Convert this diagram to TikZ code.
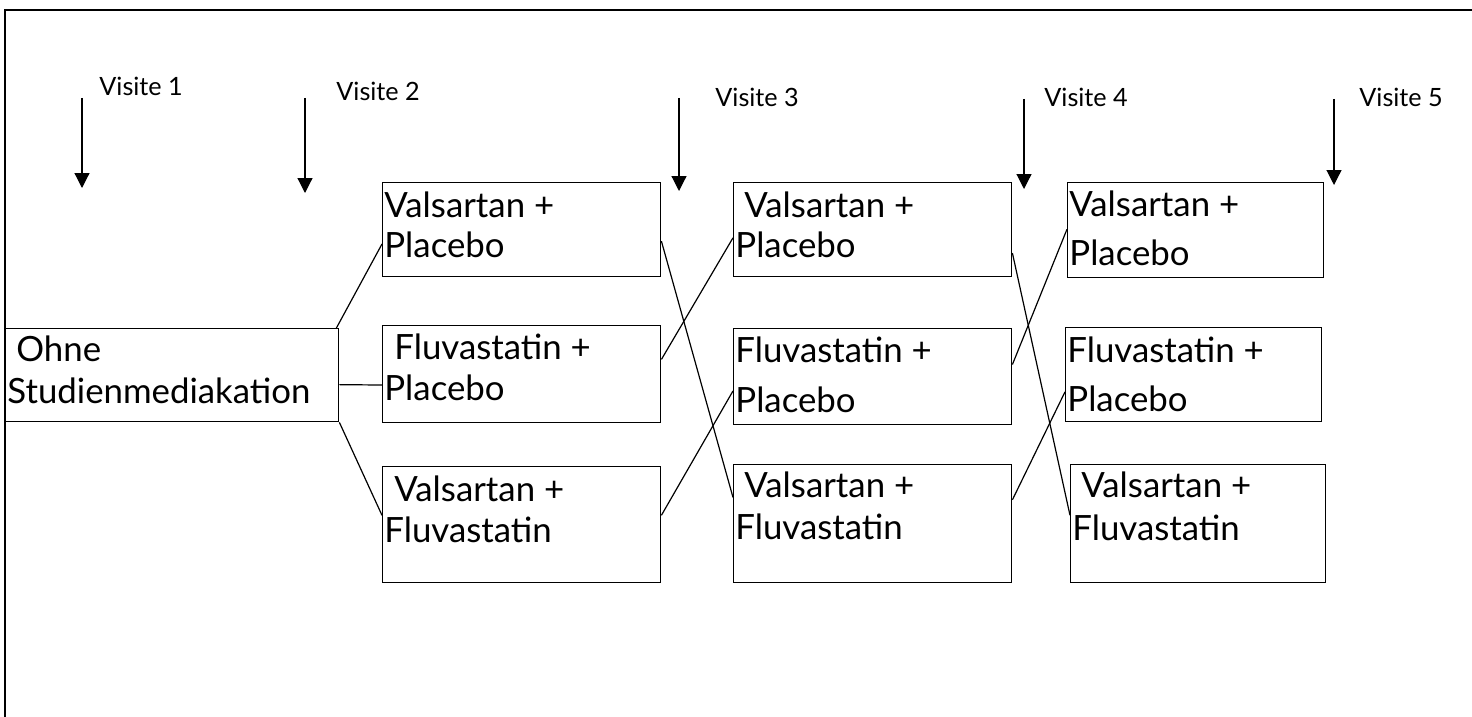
\documentclass[tikz,border=0pt]{standalone}
\usepackage{fontspec}
\setmainfont{Lato}
\usetikzlibrary{arrows.meta,calc}
\begin{document}
\begin{tikzpicture}[x=0.5pt,y=-0.5pt,
  boxst/.style={draw=black,line width=0.7pt,inner sep=0pt,anchor=north west},
  txt/.style={anchor=base west,inner sep=0pt,font=\fontsize{17.4}{20}\selectfont},
  vis/.style={anchor=base west,inner sep=0pt,font=\fontsize{12.6}{15}\selectfont},
  conn/.style={line width=0.6pt},
  visarrow/.style={line width=0.6pt,-{Triangle[width=7.5pt,length=7.5pt]}}]
\useasboundingbox (0,0) rectangle (1472,717);
% outer frame (top and left)
\draw[line width=0.7pt] (1472,10) -- (5,10) -- (5,717);
% boxes
\newcommand{\mybox}[5]{\node[boxst,minimum width={(#4-#2)*0.5pt},minimum height={(#5-#3)*0.5pt}] (#1) at (#2,#3) {};}
\mybox{L}{5}{328}{338}{421}
\mybox{B1}{382}{182}{660}{276}
\mybox{B2}{382}{325}{660}{422}
\mybox{B3}{382}{466}{660}{582}
\mybox{C1}{733}{182}{1011}{276}
\mybox{C2}{733}{328}{1011}{424}
\mybox{C3}{733}{464}{1011}{582}
\mybox{D1}{1067}{182}{1323}{277}
\mybox{D2}{1065}{327}{1321}{421}
\mybox{D3}{1070}{464}{1325}{582}
% texts
\node[txt] (tL1) at (16,361) {Ohne};
\node[txt] (tL2) at (7,403) {Studienmediakation};
\node[txt] (tB1a) at (384,217) {Valsartan +};
\node[txt] (tB1b) at (384,257) {Placebo};
\node[txt] (tB2a) at (394,359) {Fluvastatin +};
\node[txt] (tB2b) at (384,400) {Placebo};
\node[txt] (tB3a) at (394,501) {Valsartan +};
\node[txt] (tB3b) at (384,542) {Fluvastatin};
\node[txt] (tC1a) at (744,217) {Valsartan +};
\node[txt] (tC1b) at (735,257) {Placebo};
\node[txt] (tC2a) at (735,362) {Fluvastatin +};
\node[txt] (tC2b) at (735,412) {Placebo};
\node[txt] (tC3a) at (744,497) {Valsartan +};
\node[txt] (tC3b) at (735,539) {Fluvastatin};
\node[txt] (tD1a) at (1069,216) {Valsartan +};
\node[txt] (tD1b) at (1069,265) {Placebo};
\node[txt] (tD2a) at (1067,362) {Fluvastatin +};
\node[txt] (tD2b) at (1067,411) {Placebo};
\node[txt] (tD3a) at (1081,497) {Valsartan +};
\node[txt] (tD3b) at (1072,540) {Fluvastatin};
% visit labels
\node[vis] (v1) at (99,96) {Visite 1};
\node[vis] (v2) at (336,101) {Visite 2};
\node[vis] (v3) at (715,106) {Visite 3};
\node[vis] (v4) at (1044,106) {Visite 4};
\node[vis] (v5) at (1359,106) {Visite 5};
% visit arrows
\coordinate (a1s) at (82,98);   \coordinate (a1e) at (82,188);
\coordinate (a2s) at (305,98);  \coordinate (a2e) at (305,193);
\coordinate (a3s) at (679,98);  \coordinate (a3e) at (679,191);
\coordinate (a4s) at (1024,99); \coordinate (a4e) at (1024,189);
\coordinate (a5s) at (1334,99); \coordinate (a5e) at (1334,185);
\foreach \i in {1,...,5} {\draw[visarrow] (a\i s) -- (a\i e);}
% connectors from left box
\draw[conn] ($(L.north east)+(-3,0)$) -- ($(B1.north west)!0.65!(B1.south west)$);
\draw[conn] ($(L.north east)!0.6!(L.south east)$) -- ($(B2.north west)!0.61!(B2.south west)$);
\draw[conn] (L.south east) -- ($(B3.north west)!0.42!(B3.south west)$);
% column 1 -> column 2
\draw[conn] ($(B1.north east)!0.62!(B1.south east)$) -- ($(C3.north west)!0.28!(C3.south west)$);
\draw[conn] ($(B2.north east)!0.35!(B2.south east)$) -- ($(C1.north west)!0.585!(C1.south west)$);
\draw[conn] ($(B3.north east)!0.42!(B3.south east)$) -- ($(C2.north west)!0.646!(C2.south west)$);
% column 2 -> column 3
\draw[conn] ($(C1.north east)!0.745!(C1.south east)$) -- ($(D3.north west)!0.43!(D3.south west)$);
\draw[conn] ($(C2.north east)!0.375!(C2.south east)$) -- ($(D1.north west)!0.49!(D1.south west)$);
\draw[conn] ($(C3.north east)!0.30!(C3.south east)$) -- ($(D2.north west)!0.68!(D2.south west)$);
\end{tikzpicture}
\end{document}
